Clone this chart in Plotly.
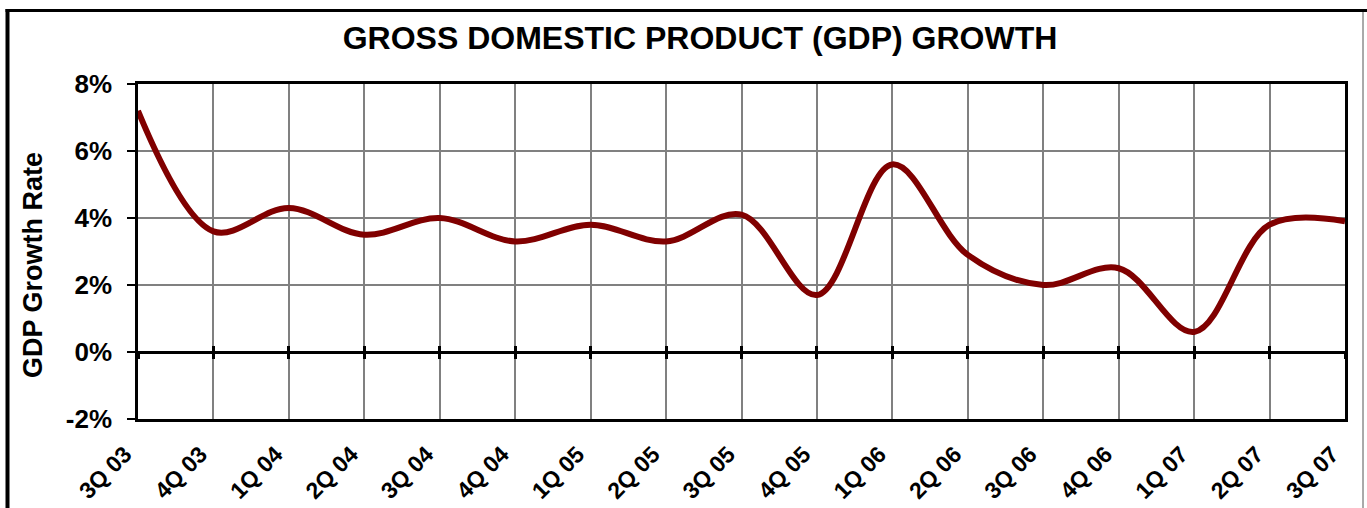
import plotly.graph_objects as go

quarters = ["3Q 03", "4Q 03", "1Q 04", "2Q 04", "3Q 04", "4Q 04", "1Q 05", "2Q 05",
            "3Q 05", "4Q 05", "1Q 06", "2Q 06", "3Q 06", "4Q 06", "1Q 07", "2Q 07", "3Q 07"]
gdp_growth = [7.2, 3.6, 4.3, 3.5, 4.0, 3.3, 3.8, 3.3,
              4.1, 1.7, 5.6, 2.9, 2.0, 2.5, 0.6, 3.8, 3.9]
y_ticks = [-2, 0, 2, 4, 6, 8]
y_tick_text = ["-2%", "0%", "2%", "4%", "6%", "8%"]

W, H = 1367, 508
L, R, T, B = 138, 1345, 84, 419
FONT = "Arial, 'Liberation Sans', sans-serif"


def px_x(p):
    return (p - L) / (R - L)


def px_y(p):
    return (B - p) / (B - T)


fig = go.Figure()
fig.add_trace(go.Scatter(
    x=quarters, y=gdp_growth, mode="lines",
    line=dict(color="#800000", width=6, shape="spline", smoothing=1.0),
    showlegend=False, hoverinfo="x+y",
))
# invisible helper traces for the tick marks along the 0% line
for ax in ("x2", "x3"):
    fig.add_trace(go.Scatter(x=quarters, y=gdp_growth, xaxis=ax, mode="lines",
                             line=dict(width=0), opacity=0, showlegend=False,
                             hoverinfo="skip"))

common_x = dict(type="category", categoryorder="array", categoryarray=quarters,
                range=[0, len(quarters) - 1], automargin=False)

fig.update_layout(
    width=W, height=H,
    margin=dict(l=L, r=W - R, t=T, b=H - B, autoexpand=False),
    paper_bgcolor="white", plot_bgcolor="white",
    font=dict(family=FONT, color="black"),
    title=dict(text="<b>GROSS DOMESTIC PRODUCT (GDP) GROWTH</b>",
               font=dict(family=FONT, size=32, color="black"),
               x=700 / W, xanchor="center", y=1 - 38 / H, yanchor="middle",
               automargin=False),
    xaxis=dict(**common_x, showgrid=True, gridcolor="#808080", gridwidth=2,
               showline=True, linecolor="black", linewidth=2.5, mirror=True,
               ticks="", tickangle=-45, zeroline=False,
               tickfont=dict(family=FONT, size=23, color="black", weight="bold"),
               ticklabelstandoff=10, ticklabelshift=-13),
    xaxis2=dict(**common_x, overlaying="x", anchor="free", position=0.2,
                showgrid=False, showline=False, ticks="outside", ticklen=6,
                tickwidth=2.5, tickcolor="black", showticklabels=False, zeroline=False),
    xaxis3=dict(**common_x, overlaying="x", anchor="free", position=0.2,
                showgrid=False, showline=False, ticks="inside", ticklen=6,
                tickwidth=2.5, tickcolor="black", showticklabels=False, zeroline=False),
    yaxis=dict(range=[-2, 8], tickvals=y_ticks, ticktext=y_tick_text, automargin=False,
               showgrid=True, gridcolor="#808080", gridwidth=2,
               zeroline=True, zerolinecolor="black", zerolinewidth=2.5,
               showline=True, linecolor="black", linewidth=2.5, mirror=True,
               ticks="outside", ticklen=8, tickwidth=1.5, tickcolor="black",
               tickfont=dict(family=FONT, size=26, color="black", weight="bold"),
               ticklabelstandoff=10),
    annotations=[dict(text="<b>GDP Growth Rate</b>", textangle=-90,
                      xref="paper", yref="paper", x=px_x(33), y=px_y(265),
                      xanchor="center", yanchor="middle", showarrow=False,
                      font=dict(family=FONT, size=27, color="black"))],
    shapes=[
        dict(type="line", xref="paper", yref="paper", x0=px_x(7.5), x1=px_x(7.5),
             y0=px_y(9), y1=px_y(520), line=dict(color="black", width=4)),
        dict(type="line", xref="paper", yref="paper", x0=px_x(5.5), x1=px_x(1370),
             y0=px_y(10.5), y1=px_y(10.5), line=dict(color="black", width=3)),
        dict(type="line", xref="paper", yref="paper", x0=px_x(1363), x1=px_x(1363),
             y0=px_y(12), y1=px_y(520), line=dict(color="#555555", width=1)),
    ],
)

fig.write_html("out.html",
               config={"displayModeBar": False},
               post_script="document.body.style.margin='0';"
                           "document.body.style.overflow='hidden';")
